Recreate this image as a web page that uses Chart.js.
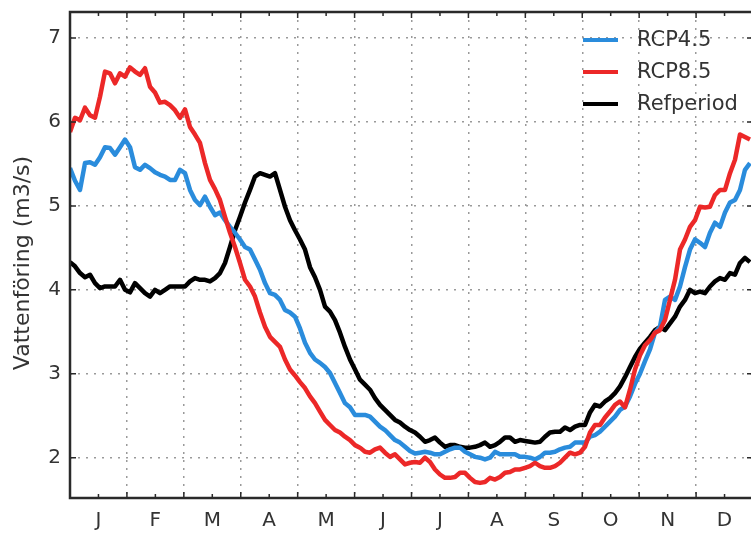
<!DOCTYPE html>
<html>
<head>
<meta charset="utf-8">
<script src="https://cdn.jsdelivr.net/npm/chart.js@4.4.0/dist/chart.umd.min.js"></script>
<style>
  html, body { margin: 0; padding: 0; background: #fff; overflow: hidden; }
  #chart { display: block; }
</style>
</head>
<body>
<canvas id="chart" width="760" height="534"></canvas>
<script>
const monthLabels = ['J', 'F', 'M', 'A', 'M', 'J', 'J', 'A', 'S', 'O', 'N', 'D'];
const yTicks = [2, 3, 4, 5, 6, 7];
const seriesNames = ['RCP4.5', 'RCP8.5', 'Refperiod'];
const seriesColors = ['#2a8cdc', '#ec2828', '#000000'];
const yTitle = 'Vattenföring (m3/s)';

// daily flow, sampled every ~2.67 days from 1 Jan
const sampleStep = 2.672;

const rcp45 = [
  5.45, 5.3, 5.19, 5.51, 5.52, 5.49, 5.58, 5.7, 5.69, 5.61,
  5.7, 5.79, 5.7, 5.46, 5.43, 5.49, 5.45, 5.4, 5.37, 5.35,
  5.31, 5.31, 5.43, 5.39, 5.19, 5.07, 5.01, 5.11, 4.99, 4.89,
  4.92, 4.83, 4.75, 4.68, 4.6, 4.51, 4.48, 4.36, 4.24, 4.08,
  3.96, 3.94, 3.88, 3.76, 3.73, 3.68, 3.54, 3.37, 3.25, 3.17,
  3.13, 3.08, 3.01, 2.89, 2.77, 2.65, 2.6, 2.51, 2.51, 2.51,
  2.49, 2.43, 2.37, 2.33, 2.27, 2.21, 2.18, 2.13, 2.08, 2.05,
  2.06, 2.07, 2.06, 2.04, 2.04, 2.07, 2.1, 2.12, 2.12, 2.07,
  2.04, 2.01, 2.0, 1.98, 2.0, 2.07, 2.04, 2.04, 2.04, 2.04,
  2.01, 2.01, 2.0, 1.98, 2.01, 2.06, 2.06, 2.07, 2.1, 2.12,
  2.13, 2.18, 2.18, 2.18, 2.25, 2.27, 2.31, 2.37, 2.43, 2.49,
  2.57, 2.61, 2.73, 2.88, 3.0, 3.15, 3.29, 3.49, 3.56, 3.88,
  3.92, 3.88, 4.04, 4.27, 4.48, 4.6, 4.56, 4.51, 4.68, 4.8,
  4.75, 4.92, 5.04, 5.07, 5.19, 5.43, 5.51
];

const rcp85 = [
  5.88, 6.05, 6.02, 6.17, 6.08, 6.05, 6.3, 6.6, 6.58, 6.46,
  6.58, 6.54, 6.65, 6.6, 6.56, 6.64, 6.42, 6.35, 6.23, 6.24,
  6.2, 6.14, 6.05, 6.15, 5.94, 5.85, 5.75, 5.51, 5.31, 5.2,
  5.07, 4.87, 4.68, 4.51, 4.32, 4.12, 4.04, 3.92, 3.73, 3.56,
  3.44, 3.38, 3.32, 3.17, 3.05, 2.98, 2.9, 2.83, 2.73, 2.65,
  2.55, 2.45, 2.39, 2.33, 2.3, 2.25, 2.21, 2.15, 2.12, 2.07,
  2.06, 2.1, 2.12, 2.06, 2.01, 2.04, 1.98, 1.92, 1.94, 1.95,
  1.94, 2.0, 1.95, 1.86, 1.8, 1.76, 1.76, 1.77, 1.82, 1.82,
  1.76, 1.71, 1.7, 1.71, 1.76, 1.74, 1.77, 1.82, 1.83, 1.86,
  1.86, 1.88, 1.9, 1.94, 1.9, 1.88, 1.88, 1.9, 1.94, 2.0,
  2.06, 2.04, 2.06, 2.13, 2.3, 2.39, 2.39, 2.48, 2.55, 2.63,
  2.67, 2.6, 2.81, 3.05, 3.22, 3.34, 3.4, 3.49, 3.52, 3.64,
  3.88, 4.12, 4.48, 4.6, 4.75, 4.83, 4.99, 4.98, 4.99, 5.13,
  5.19, 5.19, 5.39, 5.55, 5.85, 5.82, 5.79
];

const refperiod = [
  4.33, 4.28, 4.2, 4.15, 4.18, 4.08, 4.02, 4.04, 4.04, 4.04,
  4.12, 4.0, 3.97, 4.08, 4.02, 3.96, 3.92, 4.0, 3.96, 4.0,
  4.04, 4.04, 4.04, 4.04, 4.1, 4.14, 4.12, 4.12, 4.1, 4.14,
  4.2, 4.32, 4.51, 4.71, 4.87, 5.04, 5.19, 5.35, 5.39, 5.37,
  5.35, 5.39, 5.19, 4.99, 4.83, 4.71, 4.6, 4.48, 4.27, 4.15,
  4.0, 3.8, 3.74, 3.64, 3.49, 3.32, 3.17, 3.05, 2.93, 2.87,
  2.81, 2.71, 2.63, 2.57, 2.51, 2.45, 2.42, 2.37, 2.33, 2.3,
  2.25, 2.19, 2.21, 2.24, 2.18, 2.13, 2.15, 2.15, 2.13, 2.12,
  2.12, 2.13, 2.15, 2.18, 2.13, 2.15, 2.19, 2.24, 2.24, 2.19,
  2.21, 2.2, 2.19, 2.18, 2.19, 2.25, 2.3, 2.31, 2.31, 2.36,
  2.33, 2.37, 2.39, 2.39, 2.54, 2.63, 2.61, 2.67, 2.71, 2.77,
  2.85, 2.96, 3.08, 3.2, 3.3, 3.37, 3.44, 3.52, 3.56, 3.52,
  3.6, 3.68, 3.8, 3.88, 4.0, 3.96, 3.98, 3.96, 4.04, 4.1,
  4.14, 4.12, 4.2, 4.18, 4.32, 4.38, 4.33
];

const monthLen = 365 / 12;
const xTickValues = [];
for (let m = 0; m <= 12; m++) {
  xTickValues.push(m * monthLen);
  if (m < 12) xTickValues.push((m + 0.5) * monthLen);
}

const toPoints = vals => vals.map((v, i) => ({ x: i * sampleStep, y: v }));
const FONT = '"DejaVu Sans", sans-serif';
const TEXT = '#333333';

const frame = {
  id: 'frame',
  afterDatasetsDraw(chart) {
    const { ctx, chartArea: a, scales: { x, y } } = chart;
    ctx.save();
    ctx.strokeStyle = '#2a2a2a';
    ctx.lineWidth = 1.5;
    ctx.beginPath();
    yTicks.forEach(v => {
      const py = y.getPixelForValue(v);
      ctx.moveTo(a.left, py); ctx.lineTo(a.left + 6, py);
      ctx.moveTo(a.right, py); ctx.lineTo(a.right - 6, py);
    });
    xTickValues.forEach((v, i) => {
      const px = x.getPixelForValue(v);
      const len = i % 2 ? 4 : 6;
      ctx.moveTo(px, a.bottom); ctx.lineTo(px, a.bottom - len);
      ctx.moveTo(px, a.top); ctx.lineTo(px, a.top + len);
    });
    ctx.stroke();
    ctx.lineWidth = 2.5;
    ctx.strokeRect(a.left, a.top, a.right - a.left, a.bottom - a.top);
    ctx.restore();
  }
};

const legendBox = {
  id: 'legendBox',
  afterDraw(chart) {
    const { ctx, chartArea: a } = chart;
    ctx.save();
    // y axis title
    ctx.font = '22px ' + FONT;
    ctx.fillStyle = TEXT;
    ctx.textAlign = 'center';
    ctx.textBaseline = 'middle';
    ctx.translate(23, (a.top + a.bottom) / 2 + 8);
    ctx.rotate(-Math.PI / 2);
    ctx.fillText(yTitle, 0, 0);
    ctx.restore();

    ctx.save();
    ctx.font = '21px ' + FONT;
    ctx.textBaseline = 'middle';
    seriesNames.forEach((name, i) => {
      const y = a.top + 28 + i * 32;
      const x = a.right - 170;
      ctx.strokeStyle = seriesColors[i];
      ctx.lineWidth = 4;
      ctx.beginPath();
      ctx.moveTo(x, y);
      ctx.lineTo(x + 35, y);
      ctx.stroke();
      ctx.fillStyle = TEXT;
      ctx.fillText(name, x + 54, y + 1);
    });
    ctx.restore();
  }
};

const seriesValues = [rcp45, rcp85, refperiod];
const drawOrder = [1, 0, 2];

new Chart(document.getElementById('chart').getContext('2d'), {
  type: 'line',
  data: {
    datasets: seriesNames.map((name, i) => ({
      label: name,
      data: toPoints(seriesValues[i]),
      borderColor: seriesColors[i],
      borderWidth: 4.5,
      pointRadius: 0,
      tension: 0,
      fill: false,
      borderJoinStyle: 'round',
      order: drawOrder[i],
    })),
  },
  options: {
    responsive: false,
    animation: false,
    layout: { padding: { top: 12, right: 7, left: 0, bottom: 0 } },
    plugins: { legend: { display: false }, tooltip: { enabled: false } },
    scales: {
      x: {
        type: 'linear',
        min: 0,
        max: 365,
        afterBuildTicks: s => { s.ticks = xTickValues.map(v => ({ value: v })); },
        afterFit: s => { s.height = 36; s.paddingLeft = 0; s.paddingRight = 0; },
        ticks: {
          autoSkip: false,
          maxRotation: 0,
          padding: 11,
          color: TEXT,
          font: { family: FONT, size: 20 },
          callback: (v, i) => (i % 2 ? monthLabels[(i - 1) / 2] : ''),
        },
        grid: {
          drawTicks: false,
          lineWidth: 1.5,
          color: c => (c.index % 2 === 0 ? '#9a9a9a' : 'rgba(0,0,0,0)'),
        },
        border: { display: false, dash: [2, 6] },
      },
      y: {
        min: 1.52,
        max: 7.31,
        afterBuildTicks: s => { s.ticks = yTicks.map(v => ({ value: v })); },
        afterFit: s => { s.width = 70; s.paddingTop = 0; s.paddingBottom = 0; },
        ticks: {
          padding: 9,
          color: TEXT,
          font: { family: FONT, size: 20 },
        },
        grid: { drawTicks: false, lineWidth: 1.5, color: '#9a9a9a' },
        border: { display: false, dash: [2, 6] },
      },
    },
  },
  plugins: [frame, legendBox],
});
</script>
</body>
</html>
